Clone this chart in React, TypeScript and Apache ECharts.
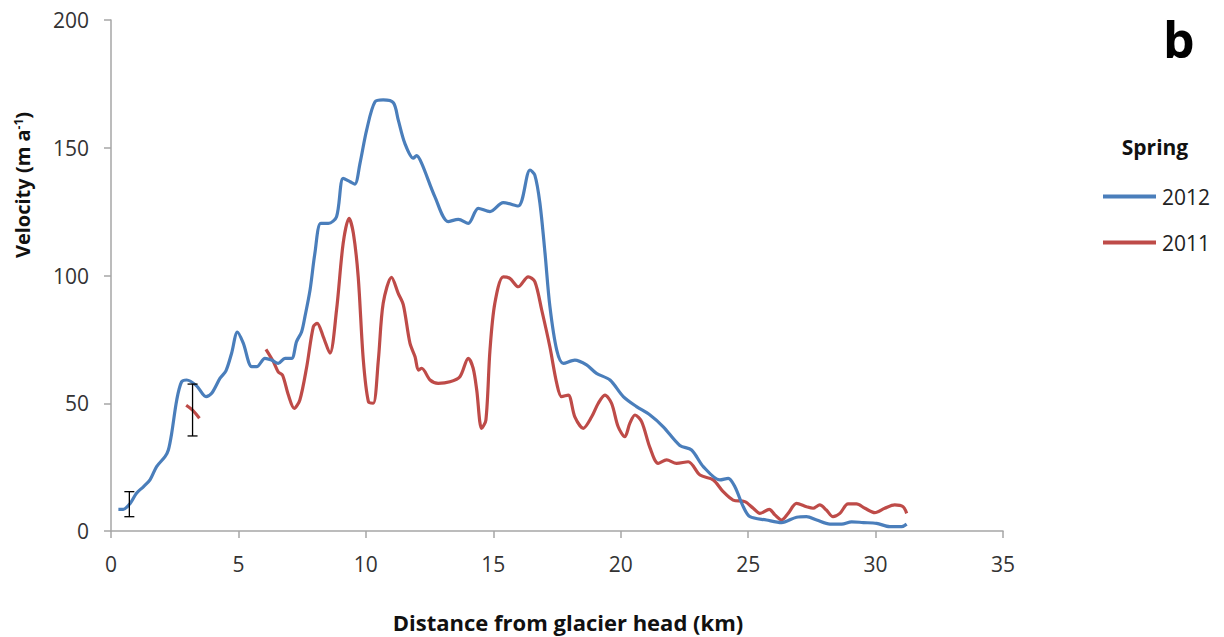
import React, { useEffect, useRef } from "react";
import * as echarts from "echarts";

const xTicks = [0, 5, 10, 15, 20, 25, 30, 35];
const yTicks = [0, 50, 100, 150, 200];

const spring2012: [number, number][] = [
  [0.29, 8.5], [0.48, 8.5], [0.75, 10.8], [1.0, 14.8], [1.27, 17.3], [1.53, 20], [1.79, 25.2],
  [2.12, 29.1], [2.25, 31.7], [2.38, 38.2], [2.58, 51.3], [2.77, 58.4], [2.97, 59.1], [3.36, 56.8],
  [3.73, 52.6], [3.95, 53.9], [4.28, 59.8], [4.51, 62.7], [4.73, 69.5], [4.96, 77.8], [5.19, 73.5],
  [5.52, 64.3], [5.72, 64.3], [6.04, 67.6], [6.3, 66.9], [6.56, 65.6], [6.83, 67.6], [7.09, 67.6],
  [7.28, 74.1], [7.48, 78.0], [7.61, 83.9], [7.81, 94.3], [8.0, 108.7], [8.23, 120.4], [8.53, 120.4],
  [8.85, 123], [9.11, 138], [9.38, 136.7], [9.57, 135.8], [9.77, 143.9], [10.03, 156.9], [10.36, 168],
  [10.68, 168.7], [11.08, 167.6], [11.27, 160.9], [11.53, 151.7], [11.86, 145.9], [11.99, 146.9],
  [12.19, 143.9], [12.71, 130.8], [13.23, 121.1], [13.63, 122], [14.02, 120.4], [14.41, 126.3],
  [14.87, 125], [15.39, 128.5], [15.98, 127.2], [16.44, 141.3], [16.63, 139.3], [16.83, 128.3],
  [17.03, 108.7], [17.22, 88], [17.49, 70.8], [17.75, 65.6], [18.2, 66.9], [18.66, 65], [19.05, 61.7],
  [19.58, 59.1], [20.1, 52.6], [20.62, 48.7], [21.15, 45.4], [21.67, 40.8], [22.32, 33.5], [22.78, 31.7],
  [23.24, 25.2], [23.89, 20], [24.22, 20.6], [24.48, 17.3], [24.81, 9.5], [25.07, 5.6], [25.72, 4.3],
  [26.31, 3.3], [26.9, 5.4], [27.29, 5.6], [27.69, 4.3], [28.21, 2.7], [28.67, 2.7], [29.06, 3.6],
  [29.52, 3.3], [30.04, 3.0], [30.56, 1.7], [31.02, 1.7], [31.22, 2.7],
];

const spring2011a: [number, number][] = [
  [2.95, 49.2], [3.2, 47.3], [3.47, 44.1],
];

const spring2011b: [number, number][] = [
  [6.08, 71.1], [6.37, 66.3], [6.56, 62.3], [6.73, 61], [6.96, 53.2], [7.19, 48], [7.41, 51.3],
  [7.68, 64.3], [7.94, 80], [8.09, 81.3], [8.33, 76], [8.59, 69.6], [8.85, 86.5], [9.11, 112.6],
  [9.34, 122.4], [9.51, 116.5], [9.7, 99.5], [9.9, 66.9], [10.1, 50.6], [10.29, 50], [10.49, 66.9],
  [10.68, 89.1], [11.01, 99.3], [11.27, 93], [11.47, 88.5], [11.73, 73.5], [11.93, 68.2], [12.06, 63],
  [12.19, 63.7], [12.52, 59.1], [12.84, 57.8], [13.3, 58.4], [13.69, 60.4], [14.02, 67.6], [14.21, 63.7],
  [14.35, 55.2], [14.54, 40.2], [14.71, 43.4], [14.87, 70.8], [15.06, 89.1], [15.39, 99.5], [15.65, 98.9],
  [15.98, 95.6], [16.37, 99.5], [16.63, 97.6], [16.9, 86.5], [17.22, 72.1], [17.49, 57.8], [17.68, 52.6],
  [17.94, 53.2], [18.2, 44.7], [18.53, 40.2], [18.86, 44.7], [19.12, 50], [19.38, 53.2], [19.64, 50],
  [19.9, 40.8], [20.16, 36.9], [20.36, 42.2], [20.56, 45.4], [20.82, 42.8], [21.15, 32.5], [21.47, 26.5],
  [21.8, 27.8], [22.19, 26.5], [22.65, 27.1], [23.11, 21.9], [23.63, 20], [24.02, 15.4], [24.41, 12.1],
  [24.87, 11.5], [25.2, 8.9], [25.46, 6.9], [25.83, 8.5], [26.05, 6.3], [26.31, 4.3], [26.57, 6.9],
  [26.9, 10.8], [27.29, 9.5], [27.55, 8.9], [27.81, 10.2], [28.07, 8.2], [28.33, 5.6], [28.6, 6.9],
  [28.92, 10.6], [29.25, 10.6], [29.58, 8.9], [29.97, 7.2], [30.36, 8.9], [30.75, 10.2], [31.08, 9.5],
  [31.22, 6.9],
];

// [km, low, high]
const errorBars: [number, number, number][] = [
  [0.72, 5.6, 15.4],
  [3.2, 37.2, 57.5],
];

const BLUE = "#4A7EBB";
const RED = "#BE4B48";
const AXIS = "#A6A6A6";
const FONT = "'Open Sans', 'Liberation Sans', sans-serif";

export default function App() {
  const ref = useRef<HTMLDivElement>(null);
  useEffect(() => {
    if (!ref.current) return;
    const chart = echarts.init(ref.current, null, { renderer: "svg" });
    chart.setOption({
      animation: false,
      backgroundColor: "#ffffff",
      grid: { left: 111, right: 221, top: 20, bottom: 106, containLabel: false },
      xAxis: {
        type: "value",
        min: xTicks[0],
        max: xTicks[xTicks.length - 1],
        interval: 5,
        axisLine: { show: true, onZero: false, lineStyle: { color: AXIS, width: 1.5 } },
        axisTick: { show: true, length: 7, lineStyle: { color: AXIS, width: 1.5 } },
        splitLine: { show: false },
        axisLabel: { color: "#333", fontFamily: FONT, fontSize: 21, margin: 22 },
      },
      yAxis: {
        type: "value",
        min: yTicks[0],
        max: yTicks[yTicks.length - 1],
        interval: 50,
        axisLine: { show: true, lineStyle: { color: AXIS, width: 1.5 } },
        axisTick: { show: true, length: 7, lineStyle: { color: AXIS, width: 1.5 } },
        splitLine: { show: false },
        axisLabel: { color: "#333", fontFamily: FONT, fontSize: 21, margin: 22 },
      },
      legend: {
        orient: "vertical",
        left: 1098,
        top: 181,
        icon: "rect",
        itemWidth: 53,
        itemHeight: 4,
        itemGap: 25,
        data: ["2012", "2011"],
        textStyle: { color: "#222", fontFamily: FONT, fontSize: 21, padding: [0, 0, 0, 1] },
      },
      graphic: [
        {
          type: "text",
          left: 1163,
          top: 14,
          style: { text: "b", fontFamily: FONT, fontWeight: "bold", fontSize: 50, fill: "#000" },
        },
        {
          type: "text",
          x: 1155,
          y: 147,
          style: {
            text: "Spring",
            fontFamily: FONT,
            fontWeight: "bold",
            fontSize: 21,
            fill: "#111",
            align: "center",
            verticalAlign: "middle",
          },
        },
        {
          type: "text",
          x: 568,
          y: 622,
          style: {
            text: "Distance from glacier head (km)",
            fontFamily: FONT,
            fontWeight: "bold",
            fontSize: 22,
            fill: "#111",
            align: "center",
            verticalAlign: "middle",
          },
        },
        {
          type: "text",
          x: 22,
          y: 185,
          rotation: Math.PI / 2,
          style: {
            text: "Velocity (m a{sup|-1})",
            fontFamily: FONT,
            fontWeight: "bold",
            fontSize: 20,
            fill: "#111",
            align: "center",
            verticalAlign: "middle",
            rich: {
              sup: { fontSize: 12, fontWeight: "bold", fontFamily: FONT, verticalAlign: "top", padding: [0, 0, 8, 0] },
            },
          },
        },
      ],
      series: [
        {
          name: "2012",
          type: "line",
          data: spring2012,
          smooth: 0.3,
          symbol: "none",
          lineStyle: { color: BLUE, width: 3.2 },
          itemStyle: { color: BLUE },
          z: 3,
        },
        {
          name: "2011",
          type: "line",
          data: spring2011a,
          smooth: 0.3,
          symbol: "none",
          lineStyle: { color: RED, width: 3.2 },
          itemStyle: { color: RED },
          z: 2,
        },
        {
          name: "2011",
          type: "line",
          data: spring2011b,
          smooth: 0.3,
          symbol: "none",
          lineStyle: { color: RED, width: 3.2 },
          itemStyle: { color: RED },
          z: 2,
        },
        {
          name: "err",
          type: "custom",
          data: errorBars,
          z: 5,
          renderItem: (params: any, api: any) => {
            const x = api.value(0);
            const lo = api.coord([x, api.value(1)]);
            const hi = api.coord([x, api.value(2)]);
            const hw = 5;
            const style = { stroke: "#000", lineWidth: 1.3 };
            return {
              type: "group",
              children: [
                { type: "line", shape: { x1: lo[0], y1: lo[1], x2: hi[0], y2: hi[1] }, style },
                { type: "line", shape: { x1: lo[0] - hw, y1: lo[1], x2: lo[0] + hw, y2: lo[1] }, style },
                { type: "line", shape: { x1: hi[0] - hw, y1: hi[1], x2: hi[0] + hw, y2: hi[1] }, style },
              ],
            };
          },
        },
      ],
    });
    return () => chart.dispose();
  }, []);
  return <div ref={ref} style={{ width: 1224, height: 637, position: "absolute", left: 0, top: 0 }} />;
}
